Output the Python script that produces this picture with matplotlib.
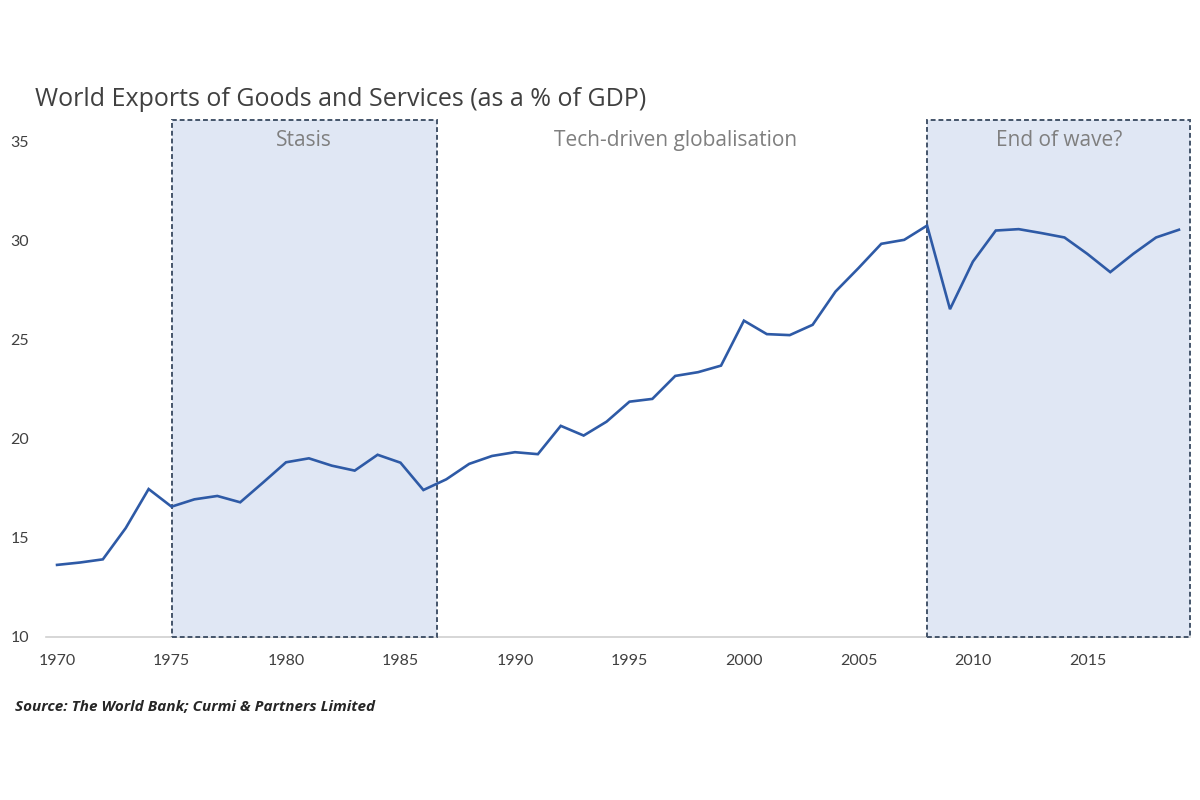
import matplotlib
matplotlib.use("Agg")
import matplotlib.pyplot as plt
from matplotlib.patches import Rectangle

years = list(range(1970, 2020))
exports_pct_gdp = [
    13.64, 13.76, 13.92, 15.50, 17.47, 16.58, 16.95, 17.12, 16.80, 17.80,
    18.82, 19.02, 18.65, 18.40, 19.20, 18.80, 17.42, 17.96, 18.74, 19.14,
    19.33, 19.23, 20.66, 20.17, 20.87, 21.88, 22.02, 23.18, 23.37, 23.70,
    25.97, 25.29, 25.24, 25.76, 27.44, 28.62, 29.85, 30.05, 30.77, 26.55,
    28.95, 30.52, 30.59, 30.39, 30.17, 29.34, 28.42, 29.34, 30.17, 30.56,
]
xtick_years = [1970, 1975, 1980, 1985, 1990, 1995, 2000, 2005, 2010, 2015]
ytick_values = [10, 15, 20, 25, 30, 35]
periods = [("Stasis", 1975.0, 1986.6), ("End of wave?", 2008.0, 2019.5)]
middle_label = ("Tech-driven globalisation", 1997.0)

title = "World Exports of Goods and Services (as a % of GDP)"
source = "Source: The World Bank; Curmi & Partners Limited"

fig = plt.figure(figsize=(12, 8), dpi=100)
ax = fig.add_axes([0.038, 0.20375, 0.954, 0.64625])
ymin, ymax = 10, 36.1
ax.set_xlim(1969.5, 2019.5)
ax.set_ylim(ymin, ymax)

for name, x0, x1 in periods:
    ax.add_patch(Rectangle((x0, ymin), x1 - x0, ymax - ymin, facecolor="#e0e7f4",
                           edgecolor="#44546a", linestyle=(0, (2.5, 1.5)), linewidth=1.4,
                           clip_on=False, zorder=1))
    ax.text((x0 + x1) / 2, 35.05, name, ha="center", va="center", fontsize=15,
            color="#7f7f7f", family="Open Sans", zorder=3)
ax.text(middle_label[1], 35.05, middle_label[0], ha="center", va="center", fontsize=15,
        color="#7f7f7f", family="Open Sans", zorder=3)

ax.plot(years, exports_pct_gdp, color="#2e5aa6", linewidth=1.9, zorder=4,
        solid_joinstyle="miter")

for s in ["top", "right", "left"]:
    ax.spines[s].set_visible(False)
ax.spines["bottom"].set_color("#d0d0d0")
ax.spines["bottom"].set_linewidth(1.2)
ax.spines["bottom"].set_zorder(0)

ax.set_xticks(xtick_years)
ax.set_xticklabels([str(y) for y in xtick_years], family="Lato", fontsize=11.5, color="#404040")
ax.set_yticks(ytick_values)
ax.set_yticklabels([str(v) for v in ytick_values], family="Lato", fontsize=11.5, color="#404040")
ax.tick_params(axis="both", length=0)
ax.tick_params(axis="x", pad=12)
ax.tick_params(axis="y", pad=12)

fig.text(35 / 1200, 1 - 100 / 800, title, ha="left", va="center", fontsize=18,
         color="#404040", family="Open Sans")
fig.text(15 / 1200, 1 - 707 / 800, source, ha="left", va="center", fontsize=11,
         color="#262626", family="Open Sans", style="italic", weight="bold")

fig.savefig("out.png", dpi=100, facecolor="white")
